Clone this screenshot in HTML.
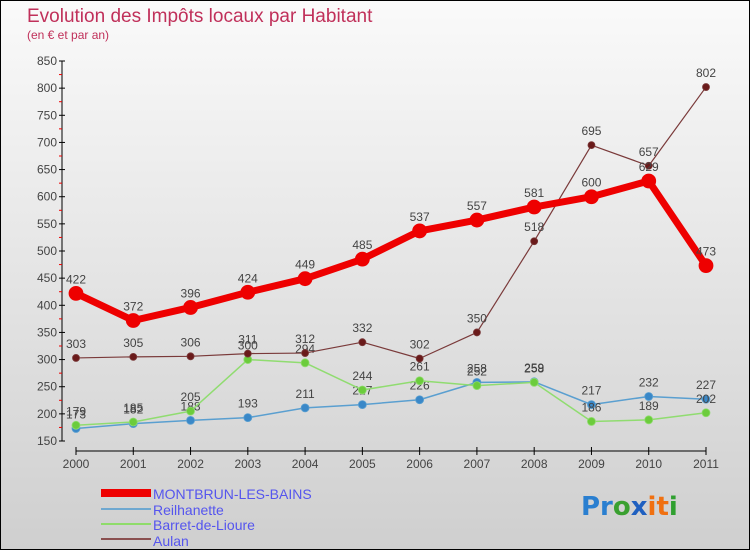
<!DOCTYPE html>
<html><head><meta charset="utf-8"><style>
body{margin:0}
#c{width:748px;height:548px;border:1px solid #000;background:linear-gradient(#fafafa,#cfcfcf);position:relative;font-family:"Liberation Sans",sans-serif}
</style></head><body>
<div id="c">
<svg id="s" width="748" height="548">
<text x="26" y="21" font-size="19" fill="#c0305a">Evolution des Impôts locaux par Habitant</text>
<text x="26" y="38" font-size="12" fill="#c0305a">(en € et par an)</text>
<g font-size="14" fill="#5555ee">
<rect x="100" y="488" width="50" height="8" fill="#ee0000"/>
<text x="152" y="498">MONTBRUN-LES-BAINS</text>
<rect x="100" y="507" width="50" height="2" fill="#6fa8d0"/>
<text x="152" y="514">Reilhanette</text>
<rect x="100" y="522" width="50" height="2" fill="#8fdc6a"/>
<text x="152" y="529">Barret-de-Lioure</text>
<rect x="100" y="537" width="50" height="2" fill="#8a5050"/>
<text x="152" y="545">Aulan</text>
</g>
<g font-size="26" font-weight="bold" font-family="'DejaVu Sans',sans-serif">
<text x="580" y="514"><tspan fill="#2a7fd0">Pr</tspan><tspan fill="#3aa030">o</tspan><tspan fill="#2060c0">x</tspan><tspan fill="#f07010">it</tspan><tspan fill="#30a030">i</tspan></text>
</g>
</svg>
</div>
<script>
const years=["2000","2001","2002","2003","2004","2005","2006","2007","2008","2009","2010","2011"];
const montbrun=[422,372,396,424,449,485,537,557,581,600,629,473];
const reilhanette=[173,182,188,193,211,217,226,258,259,217,232,227];
const barret=[179,185,205,300,294,244,261,252,258,186,189,202];
const aulan=[303,305,306,311,312,332,302,350,518,695,657,802];
const yTicks=[150,200,250,300,350,400,450,500,550,600,650,700,750,800,850];
const NS="http://www.w3.org/2000/svg",s=document.getElementById('s');
const X=i=>75+i*(630/11), Y=v=>440-(v-150)*(380/700);
function el(t,a,p){const e=document.createElementNS(NS,t);for(const k in a)e.setAttribute(k,a[k]);(p||s).appendChild(e);return e;}
const ax=el('g',{});


el('line',{x1:61,y1:60,x2:61,y2:440,stroke:'#000'},ax);
el('line',{x1:75,y1:450,x2:705,y2:450,stroke:'#000'},ax);
yTicks.forEach((v,i)=>{
 el('line',{x1:58,y1:Y(v),x2:64,y2:Y(v),stroke:'#000'},ax);
 if(i<yTicks.length-1)el('line',{x1:58,y1:Y(v+25),x2:61,y2:Y(v+25),stroke:'#e00'},ax);
 const t=el('text',{x:56,y:Y(v)+4,'text-anchor':'end','font-size':12,fill:'#444'},ax);t.textContent=v;
 
 
});
years.forEach((y,i)=>{
 el('line',{x1:X(i),y1:446,x2:X(i),y2:454,stroke:'#000'},ax);
 const t=el('text',{x:X(i),y:467,'text-anchor':'middle','font-size':12,fill:'#444'},ax);t.textContent=y;
 
 
});
function series(data,name,color,w,r,dot){
 const g=el('g',{});
 
 
 el('polyline',{points:data.map((v,i)=>X(i)+','+Y(v)).join(' '),fill:'none',stroke:color,'stroke-width':w,'stroke-linejoin':'round'},g);
 data.forEach((v,i)=>{
  const c=el('circle',{cx:X(i),cy:Y(v),r:r,fill:dot,stroke:color,'stroke-width':0.8},g);
  
  
  const t=el('text',{x:X(i),y:Y(v)-10,'text-anchor':'middle','font-size':12,fill:'#444'},g);t.textContent=v;
  
  
 });
}
series(reilhanette,'reilhanette','#5a9fd0',1.5,4,'#3a88c8');
series(barret,'barret','#90dc70',1.5,4,'#6ccc3c');
series(aulan,'aulan','#7a3a3a',1.2,3.5,'#6a1a1a');
series(montbrun,'montbrun','#ee0000',7,7,'#ee0000');
</script>
</body></html>
